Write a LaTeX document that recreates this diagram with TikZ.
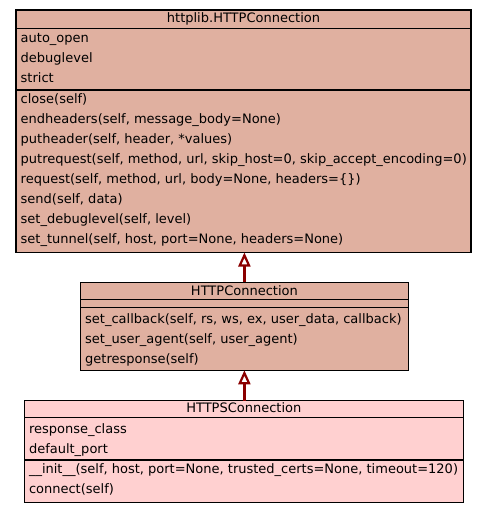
\documentclass[tikz,border=0pt]{standalone}
\usepackage{fontspec}
\setmainfont{DejaVu Sans}
\usetikzlibrary{arrows.meta}
\definecolor{basefill}{RGB}{224,176,160}
\definecolor{leaffill}{RGB}{255,208,208}
\definecolor{inherit}{RGB}{139,0,0}
\begin{document}
\begin{tikzpicture}[x=1pt,y=-1pt,
  every node/.style={font=\fontsize{13}{20}\selectfont},
  cls/.style={draw=black, line width=1.1pt, anchor=north west, inner sep=0pt, outer sep=0pt},
  sep/.style={draw=black, line width=1.1pt},
  member/.style={anchor=base west, inner sep=0pt},
  title/.style={anchor=base, inner sep=0pt},
  extends/.style={draw=inherit, line width=2.2pt,
    -{Triangle[open, length=14pt, width=12pt, line width=2.2pt, fill=white]}}]
\useasboundingbox[fill=white] (0,0) rectangle (487,513);

% ---- httplib.HTTPConnection ----
\node[cls, fill=basefill, minimum width=455pt, minimum height=242.5pt] (base) at (16,10) {};
\draw[sep] (base.west |- 0,28.5) -- (base.east |- 0,28.5);
\draw[sep] (base.west |- 0,90) -- (base.east |- 0,90);
\node[title] (baseT) at (243.5,23) {httplib.HTTPConnection};
\node[member] (baseA1) at (20.5,43)  {auto\_open};
\node[member] (baseA2) at (20.5,63)  {debuglevel};
\node[member] (baseA3) at (20.5,83)  {strict};
\node[member] (baseM1) at (20.5,103.5) {close(self)};
\node[member] (baseM2) at (20.5,123.5) {endheaders(self, message\_body=None)};
\node[member] (baseM3) at (20.5,143.5) {putheader(self, header, *values)};
\node[member] (baseM4) at (20.5,163.5) {putrequest(self, method, url, skip\_host=0, skip\_accept\_encoding=0)};
\node[member] (baseM5) at (20.5,183.5) {request(self, method, url, body=None, headers=\{\})};
\node[member] (baseM6) at (20.5,203.5) {send(self, data)};
\node[member] (baseM7) at (20.5,223.5) {set\_debuglevel(self, level)};
\node[member] (baseM8) at (20.5,243.5) {set\_tunnel(self, host, port=None, headers=None)};

% ---- HTTPConnection ----
\node[cls, fill=basefill, minimum width=327.5pt, minimum height=88pt] (mid) at (80.7,282.3) {};
\draw[sep] (mid.west |- 0,299.3) -- (mid.east |- 0,299.3);
\draw[sep] (mid.west |- 0,307.3) -- (mid.east |- 0,307.3);
\node[title] (midT) at (244.4,295) {HTTPConnection};
\node[member] (midM1) at (85,323.3) {set\_callback(self, rs, ws, ex, user\_data, callback)};
\node[member] (midM2) at (85,343.3) {set\_user\_agent(self, user\_agent)};
\node[member] (midM3) at (85,363.3) {getresponse(self)};

% ---- HTTPSConnection ----
\node[cls, fill=leaffill, minimum width=439pt, minimum height=102pt] (leaf) at (24.3,400.7) {};
\draw[sep] (leaf.west |- 0,417.7) -- (leaf.east |- 0,417.7);
\draw[sep] (leaf.west |- 0,460) -- (leaf.east |- 0,460);
\node[title] (leafT) at (243.8,412.7) {HTTPSConnection};
\node[member] (leafA1) at (28.8,433.3) {response\_class};
\node[member] (leafA2) at (28.8,453.3) {default\_port};
\node[member] (leafM1) at (28.8,473.3) {\_\_init\_\_(self, host, port=None, trusted\_certs=None, timeout=120)};
\node[member] (leafM2) at (28.8,493.3) {connect(self)};

% ---- inheritance ----
\draw[extends] (mid.north -| 244.4,0) -- (base.south -| 244.4,0);
\draw[extends] (leaf.north -| 244.4,0) -- (mid.south -| 244.4,0);
\end{tikzpicture}
\end{document}
